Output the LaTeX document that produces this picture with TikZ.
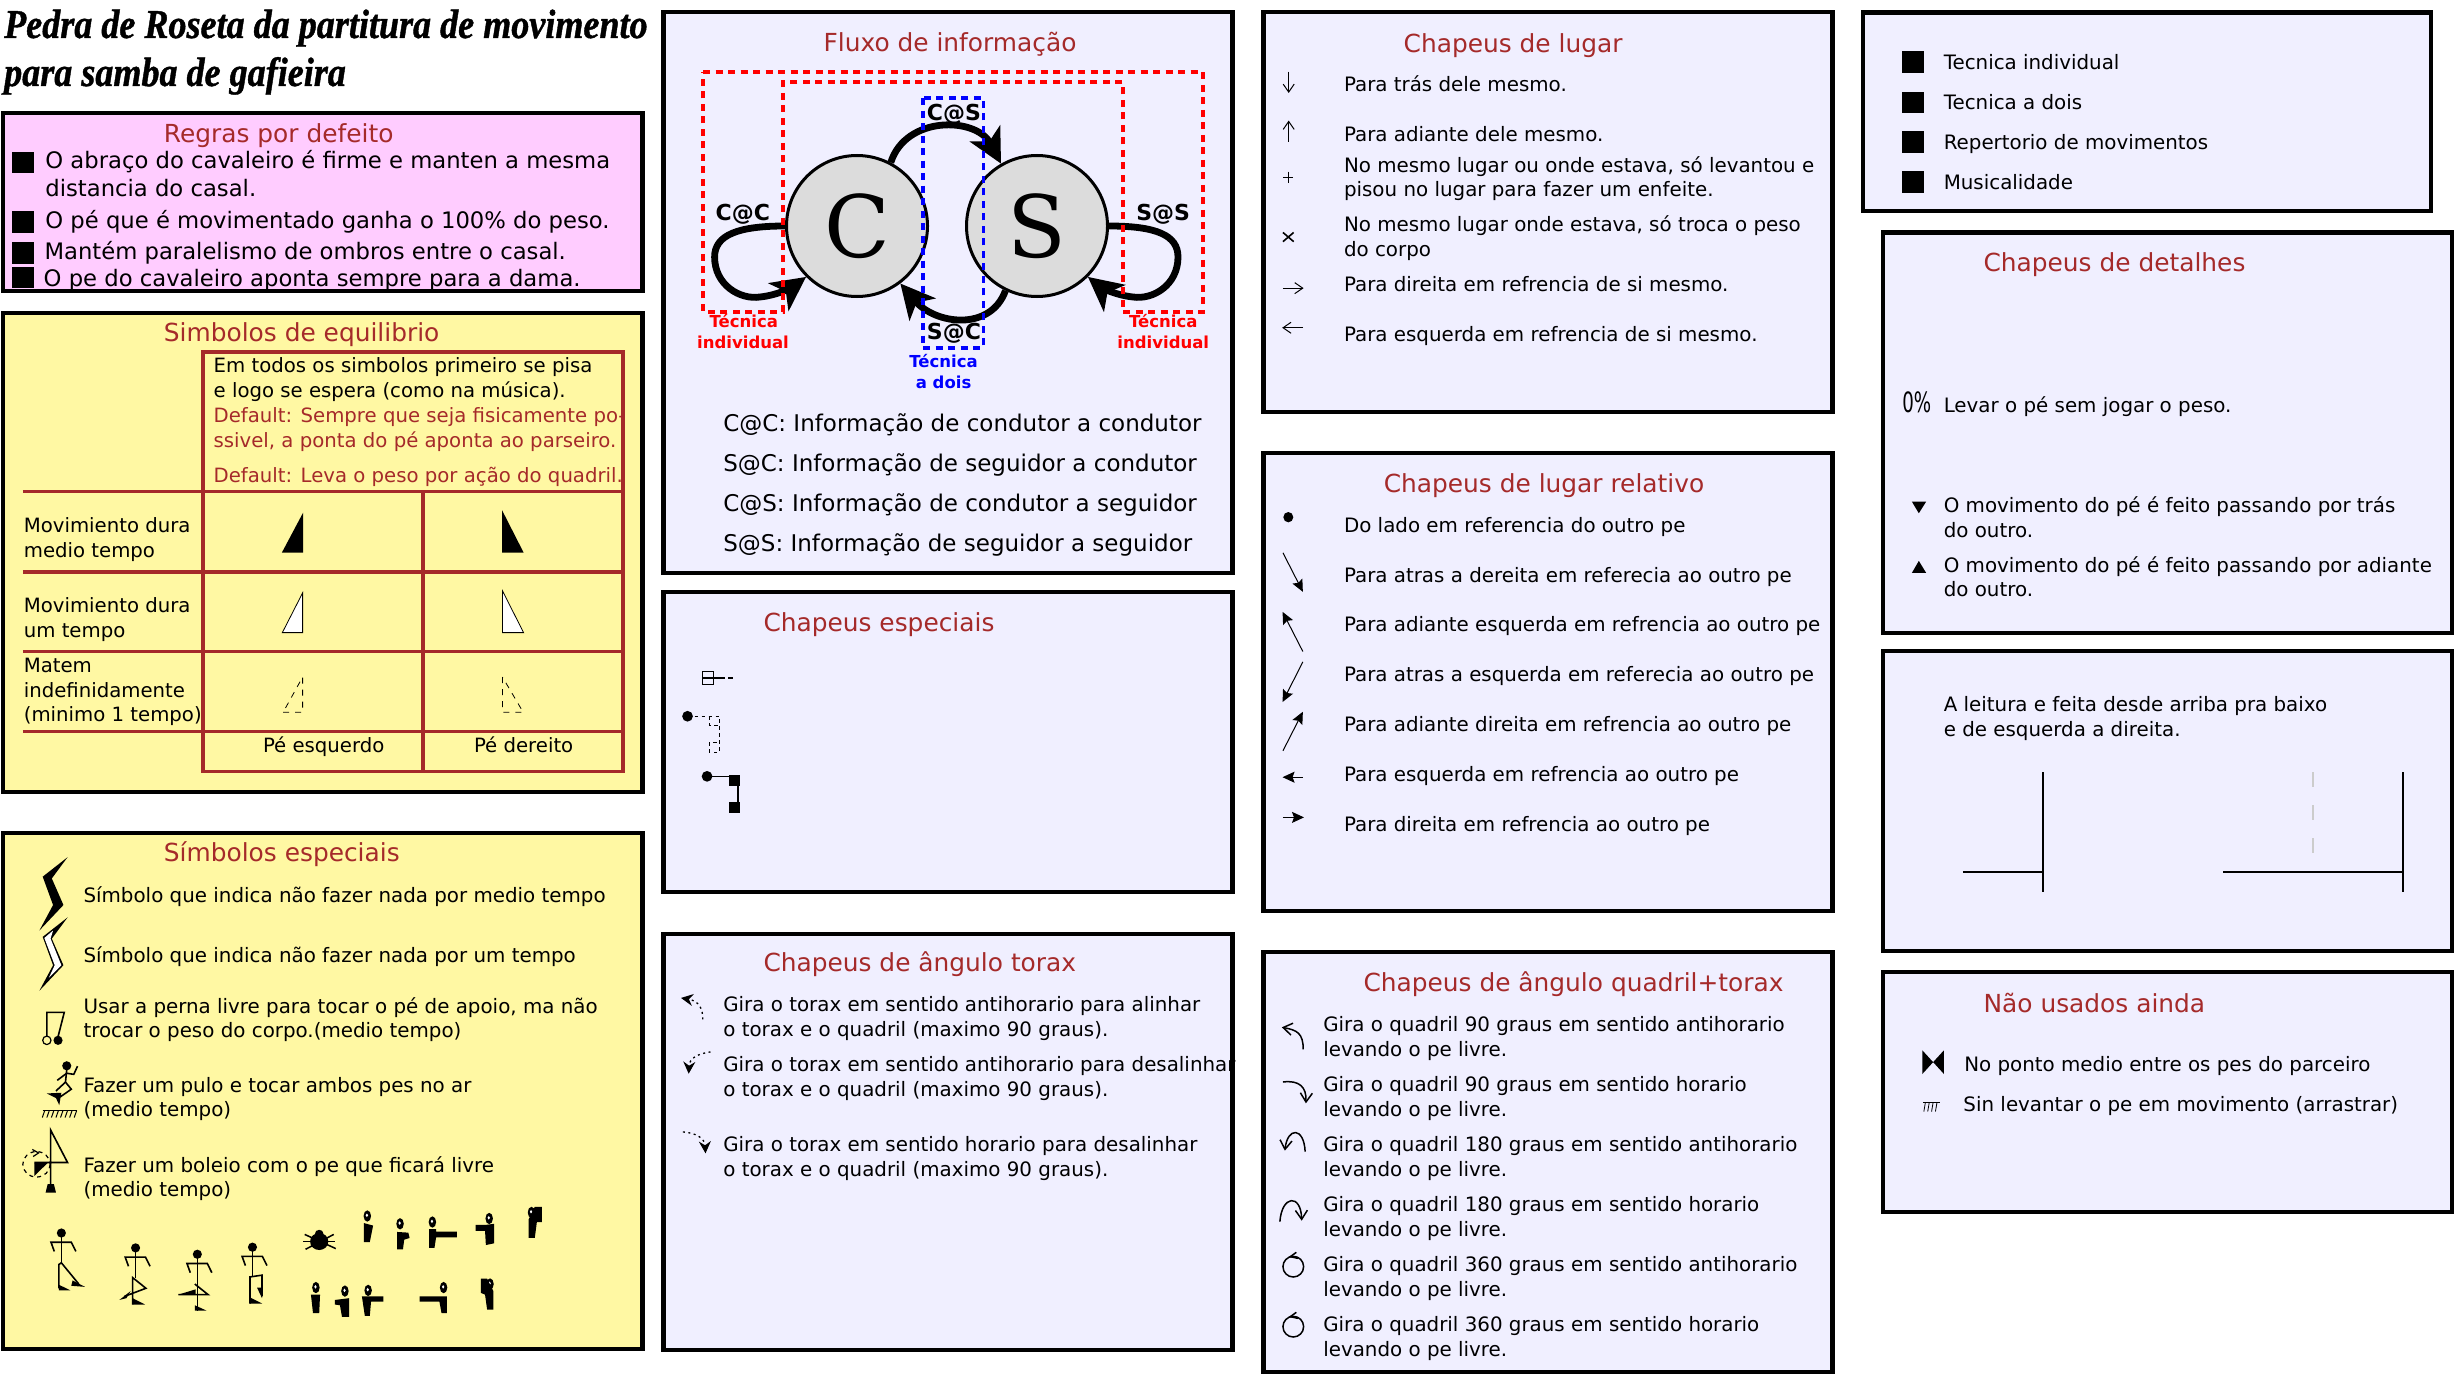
\documentclass[tikz,border=0pt]{standalone}
\usepackage{fontspec}
\setmainfont{DejaVu Sans}
\newfontfamily\titlefont{Liberation Serif}[FakeStretch=0.88,BoldItalicFeatures={FakeBold=1}]
\newfontfamily\seriffont{DejaVu Serif}
\usetikzlibrary{arrows.meta,calc}

\tikzset{
  view1/.style={xscale=1/2.412,yscale=1/1.96},
  view2/.style={shift={(0,820)},xscale=1/2.412,yscale=1/2.825},
  view3/.style={shift={(655,0)},xscale=1/2.613,yscale=1/2.703},
  view4/.style={shift={(655,580)},xscale=1/2.613,yscale=1/2.613},
  view5/.style={shift={(1255,0)},xscale=1/2.613,yscale=1/1.742},
  view6/.style={shift={(1255,930)},xscale=1/2.613,yscale=1/3},
  view7/.style={shift={(1850,0)},xscale=1/2.587,yscale=1/2.412},
  view8/.style={shift={(1850,640)},xscale=1/2.587,yscale=1/2.613},
  panel/.style={draw=black,line width=4.2pt},
  heading/.style={anchor=base west,inner sep=0pt,text=headbrown,font=\fontsize{24.85}{28}\selectfont},
  body/.style={anchor=base west,inner sep=0pt,font=\fontsize{19.85}{24}\selectfont},
  tablebody/.style={body,font=\fontsize{19.7}{24}\selectfont},
  rulebody/.style={body,font=\fontsize{22.7}{26}\selectfont},
  bigbody/.style={body,font=\fontsize{23}{26}\selectfont},
  titleline/.style={anchor=base west,inner sep=0pt,font=\fontsize{41}{46}\titlefont\bfseries\itshape},
  flowtag/.style={anchor=base west,inner sep=0pt,font=\fontsize{22}{26}\selectfont\bfseries},
  techtag/.style={anchor=base,inner sep=0pt,font=\fontsize{16.5}{20}\selectfont\bfseries},
  person/.style={circle,draw=black,fill=gainsboro,line width=3pt,minimum size=141pt,inner sep=0pt,
    font=\fontsize{86}{90}\seriffont},
  flow/.style={line width=6.8pt,-{Stealth[length=34pt,width=34pt,inset=9pt]}},
  hatline/.style={line width=1pt},
  openhat/.style={hatline,-{Straight Barb[length=8pt,width=11pt]}},
  solidhat/.style={hatline,-{Stealth[length=12pt,width=11pt,inset=2pt]}},
  turnhat/.style={line width=1.5pt,-{Straight Barb[length=9pt,width=12pt]}},
  dothat/.style={line width=1.3pt,dash pattern=on 2pt off 3.5pt,-{Stealth[length=12pt,width=12pt,inset=4pt]}},
  stick/.style={line width=1.6pt},
  grid line/.style={draw=headbrown,line width=3.3pt},
}

% person made of a thick column, with an eye in the head
\newcommand{\dancer}[3]{
  \fill (#1,#2) ellipse [x radius=9,y radius=16];
  \fill[white] (#1-1,#2-2) ellipse [x radius=3,y radius=5];
  \fill #3 -- cycle;
}
% thin person, arms always the same
\newcommand{\stickman}[3]{
  \fill (#1,#2) ellipse [x radius=11,y radius=13];
  \draw[stick] (#1,#2) -- (#1,#3);
  \draw[stick] (#1-17,#2+52) -- (#1-25,#2+26) -- (#1+24,#2+26) -- (#1+35,#2+52);
}

\begin{document}
\begin{tikzpicture}[x=1pt,y=-1pt,>=Stealth]
  \definecolor{headbrown}{RGB}{165,42,42}
  \definecolor{lavender}{RGB}{240,239,255}
  \definecolor{softpink}{RGB}{255,204,255}
  \definecolor{softyellow}{RGB}{255,248,163}
  \definecolor{gainsboro}{RGB}{220,220,220}
  \definecolor{softgray}{RGB}{204,204,204}

  \useasboundingbox (0,0) rectangle (2456,1375);

  % Panels
  \draw[panel,fill=softpink] (3,113) rectangle (642.5,291);
  \draw[panel,fill=softyellow] (3,313) rectangle (642.5,792);
  \draw[panel,fill=softyellow] (3,833) rectangle (642.5,1349);
  \draw[panel,fill=lavender] (663.5,12) rectangle (1232.5,572.6);
  \draw[panel,fill=lavender] (663.5,592) rectangle (1232.5,892);
  \draw[panel,fill=lavender] (663.5,934) rectangle (1232.5,1350);
  \draw[panel,fill=lavender] (1263.5,12) rectangle (1832.5,412);
  \draw[panel,fill=lavender] (1263.5,453) rectangle (1832.5,911);
  \draw[panel,fill=lavender] (1263.5,952) rectangle (1832.5,1372);
  \draw[panel,fill=lavender] (1863,12.5) rectangle (2431,211);
  \draw[panel,fill=lavender] (1883,232.5) rectangle (2452,633);
  \draw[panel,fill=lavender] (1883,651) rectangle (2452,951);
  \draw[panel,fill=lavender] (1883,972) rectangle (2452,1212);

  % Title
  \node[titleline] (title1) at (4,38) {Pedra de Roseta da partitura de movimento};
  \node[titleline] (title2) at (4,86) {para samba de gafieira};

  % Default rules
  \begin{scope}[view1]
    \node[heading] (regras) at (395,280) {Regras por defeito};
    \foreach \x/\y/\t [count=\i] in {109/330/{O abraço do cavaleiro é firme e manten a mesma},
        109/385/{distancia do casal.},109/448/{O pé que é movimentado ganha o 100\% do peso.},
        107/509/{Mantém paralelismo de ombros entre o casal.},105/562/{O pe do cavaleiro aponta sempre para a dama.}}
      \node[rulebody] (regra\i) at (\x,\y) {\t};
    \foreach \y in {297,414,475,523}
      \fill (29,\y) rectangle (82,\y+42);

    % Balance symbols
    \node[heading] (equilibrio) at (395,670) {Simbolos de equilibrio};
    \draw[grid line] (490,690) rectangle (1503,1512);
    \draw[grid line] (1020,964) -- (1020,1512);
    \foreach \y in {964,1121,1277,1434}
      \draw[grid line] (55,\y) -- (1503,\y);
    \foreach \y/\t [count=\i] in {730/{Em todos os simbolos primeiro se pisa},780/{e logo se espera (como na música).}}
      \node[tablebody] (nota\i) at (515,\y) {\t};
    \foreach \y/\t [count=\i] in {829/{Default: Sempre que seja fisicamente po-},878/{ssivel, a ponta do pé aponta ao parseiro.},
        946/{Default: Leva o peso por ação do quadril.}}
      \node[tablebody,text=headbrown] (default\i) at (515,\y) {\t};
    \foreach \y/\t [count=\i] in {1043/{Movimiento dura},1092/{medio tempo},1200/{Movimiento dura},1249/{um tempo},
        1318/{Matem},1367/{indefinidamente},1414/{(minimo 1 tempo)}}
      \node[tablebody] (linha\i) at (57,\y) {\t};
    \node[tablebody] (esquerdo) at (634,1475) {Pé esquerdo};
    \node[tablebody] (dereito) at (1143,1475) {Pé dereito};
    \fill (680,1083) -- (731,1083) -- (731,1005) -- cycle;
    \fill (1211,1000) -- (1211,1083) -- (1263,1083) -- cycle;
    \draw[line width=.8pt,fill=white] (681,1240) -- (730,1240) -- (730,1162) -- cycle;
    \draw[line width=.8pt,fill=white] (1212,1158) -- (1212,1240) -- (1263,1240) -- cycle;
    \draw[line width=.8pt,dash pattern=on 6pt off 6pt] (683,1396) -- (730,1396) -- (730,1327) -- cycle;
    \draw[line width=.8pt,dash pattern=on 6pt off 6pt] (1212,1327) -- (1212,1396) -- (1262,1396) -- cycle;
  \end{scope}

  % Special symbols
  \begin{scope}[view2]
    \node[heading] (especiais) at (395,118) {Símbolos especiais};
    \foreach \y/\t [count=\i] in {232/{Símbolo que indica não fazer nada por medio tempo},402/{Símbolo que indica não fazer nada por um tempo},
        546/{Usar a perna livre para tocar o pé de apoio, ma não},613/{trocar o peso do corpo.(medio tempo)},
        770/{Fazer um pulo e tocar ambos pes no ar},838/{(medio tempo)},
        995/{Fazer um boleio com o pe que ficará livre},1063/{(medio tempo)}}
      \node[body] (simbolo\i) at (201,\y) {\t};
    \fill (163,105) -- (103,160) -- (128,240) -- (95,312) -- (153,240) -- (125,165) -- cycle;
    \fill (163,275) -- (103,330) -- (128,410) -- (95,482) -- (153,410) -- (125,335) -- cycle;
    \fill[white] (128,312) -- (107,333) -- (132,410) -- (118,445) -- (148,410) -- (122,335) -- cycle;
    % note
    \draw[stick] (113,612) -- (113,543) -- (155,543) -- (140,612);
    \draw[line width=1.2pt] (113,622) ellipse [x radius=10,y radius=12];
    \fill (140,622) ellipse [x radius=11,y radius=13];
    % jump
    \fill (161,694) ellipse [x radius=11,y radius=13];
    \draw[stick] (161,705) -- (158,740) -- (172,760) -- (145,782);
    \draw[stick] (138,735) -- (161,715) -- (178,718) -- (187,695);
    \draw[stick] (158,740) -- (135,765);
    \fill (113,772) -- (148,770) -- (143,805) -- (135,785) -- cycle;
    \draw[line width=1pt] (103,820) -- (185,820);
    \foreach \x in {108,119,...,185}
      \draw[line width=1pt] (\x,820) -- (\x-6,840);
    % boleio
    \draw[stick] (122,1030) -- (122,875) -- (163,967) -- (83,967);
    \fill (83,968) -- (115,968) -- (83,1005) -- cycle;
    \fill (115,1028) -- (130,1028) -- (135,1052) -- (110,1052) -- cycle;
    \draw[line width=1.2pt,dash pattern=on 4pt off 4pt] (88,972) ellipse [x radius=33,y radius=36];
    \draw[line width=1.2pt] (78,930) -- (93,940) -- (80,950);
    % stick people
    \stickman{148}{1166}{1250}
    \draw[stick] (148,1250) -- (142,1255) -- (142,1322);
    \fill (142,1312) -- (170,1328) -- (142,1328) -- cycle;
    \draw[stick] (148,1250) -- (190,1310);
    \fill (175,1300) -- (205,1318) -- (172,1315) -- cycle;
    \stickman{327}{1208}{1292}
    \draw[stick] (320,1368) -- (320,1292) -- (352,1322) -- (300,1345);
    \fill (320,1350) -- (350,1368) -- (320,1368) -- cycle;
    \fill (288,1355) -- (315,1330) -- (305,1350) -- cycle;
    \stickman{476}{1226}{1385}
    \draw[stick] (470,1310) -- (502,1340) -- (430,1340);
    \fill (470,1370) -- (498,1385) -- (470,1385) -- cycle;
    \fill (430,1340) -- (472,1325) -- (472,1340) -- cycle;
    \stickman{609}{1206}{1288}
    \draw[stick] (603,1365) -- (603,1290) -- (632,1285) -- (632,1345);
    \fill (603,1348) -- (632,1365) -- (603,1365) -- cycle;
    \fill (620,1320) -- (632,1350) -- (632,1320) -- cycle;
    % bug
    \fill (770,1190) ellipse [x radius=22,y radius=24];
    \fill (770,1167) ellipse [x radius=10,y radius=10];
    \foreach \a/\b/\c/\d in {735/1170/810/1210,732/1190/808/1190,737/1212/805/1170}
      \draw[line width=1.5pt] (\a,\b) -- (\c,\d);
    % thick dancers
    \dancer{886}{1118}{(878,1138) -- (900,1145) -- (892,1192) -- (878,1192)}
    \dancer{965}{1140}{(958,1163) -- (985,1165) -- (988,1180) -- (975,1185) -- (972,1212) -- (958,1212)}
    \dancer{1043}{1135}{(1035,1155) -- (1052,1155) -- (1052,1162) -- (1102,1162) -- (1102,1178) -- (1052,1178) -- (1048,1208) -- (1035,1208)}
    \dancer{1180}{1125}{(1172,1143) -- (1192,1140) -- (1192,1195) -- (1172,1200) -- (1170,1160) -- (1147,1160) -- (1147,1143)}
    \dancer{1282}{1108}{(1290,1092) -- (1307,1092) -- (1307,1135) -- (1295,1135) -- (1290,1180) -- (1275,1180) -- (1275,1128)}
    \dancer{762}{1320}{(750,1340) -- (772,1340) -- (770,1392) -- (755,1392)}
    \dancer{832}{1330}{(808,1355) -- (842,1350) -- (842,1403) -- (825,1403) -- (820,1370) -- (808,1368)}
    \dancer{888}{1328}{(873,1345) -- (925,1345) -- (925,1360) -- (895,1360) -- (892,1400) -- (880,1400)}
    \dancer{1070}{1320}{(1012,1345) -- (1078,1345) -- (1078,1392) -- (1065,1392) -- (1060,1360) -- (1012,1360)}
    \dancer{1182}{1310}{(1160,1295) -- (1175,1295) -- (1190,1330) -- (1190,1382) -- (1175,1382) -- (1170,1340) -- (1160,1335)}
  \end{scope}

  % Information flow
  \node[person] (C) at (857,226) {C};
  \node[person] (S) at (1037,226) {S};
  \draw[flow] (C.62) .. controls +(15,-47) and +(-25,-47) .. (S.120);
  \draw[flow] (S.244) .. controls +(-15,41) and +(35,41) .. (C.307);
  \draw[flow] (C.180) .. controls +(-47,0) and (714.6,235) .. (714.6,257) .. controls (714.6,285) and (740,300) .. (760,297) .. controls (780,295) and (795,285) .. (C.225);
  \draw[flow] (S.0) .. controls +(47,0) and (1178,235) .. (1178,257) .. controls (1178,285) and (1153,300) .. (1133,297) .. controls (1113,295) and (1098,285) .. (S.315);
  \begin{scope}[view3]
    \node[heading] (fluxo) at (440,140) {Fluxo de informação};
    \draw[red,line width=3.6pt,dash pattern=on 7pt off 5.5pt] (126,195) -- (1432,195) -- (1432,843) -- (1222,843) -- (1222,222) -- (335,222) -- (335,843) -- (126,843) -- cycle;
    \draw[blue,line width=3.6pt,dash pattern=on 7pt off 5.5pt] (700,265) rectangle (858,940);
    \node[flowtag] (cc) at (158,595) {C@C};
    \node[flowtag] (cs) at (710,325) {C@S};
    \node[flowtag] (sc) at (710,918) {S@C};
    \node[flowtag] (ss) at (1257,595) {S@S};
    \node[techtag,text=red] (tec1) at (232,885) {Técnica};
    \node[techtag,text=red] (ind1) at (230,941) {individual};
    \node[techtag,text=red] (tec2) at (1328,885) {Técnica};
    \node[techtag,text=red] (ind2) at (1328,941) {individual};
    \node[techtag,text=blue] (tec3) at (754,992) {Técnica};
    \node[techtag,text=blue] (dois) at (754,1049) {a dois};
    \foreach \y/\t [count=\i] in {1165/{C@C: Informação de condutor a condutor},1275/{S@C: Informação de seguidor a condutor},
        1383/{C@S: Informação de condutor a seguidor},1490/{S@S: Informação de seguidor a seguidor}}
      \node[bigbody] (fluxo\i) at (178,\y) {\t};
  \end{scope}

  % Special hats and chest hats
  \begin{scope}[view4]
    \node[heading] (chapeus) at (283,135) {Chapeus especiais};
    \draw[line width=1.2pt] (125,240) rectangle (152,272);
    \draw[line width=1.2pt] (125,256) -- (183,256);
    \draw[line width=1.2pt] (192,256) -- (205,256);
    \fill (85,356) ellipse [x radius=14,y radius=14];
    \draw[line width=1.2pt,dash pattern=on 3.5pt off 3.5pt] (85,356) -- (168,356) -- (168,450) -- (142,450) -- (142,425) -- (168,425);
    \draw[line width=1.2pt,dash pattern=on 3.5pt off 3.5pt] (142,356) -- (142,380) -- (168,380);
    \fill (136,513) ellipse [x radius=14,y radius=14];
    \draw[line width=1.5pt] (136,513) -- (205,513);
    \fill (193,510) rectangle (222,537);
    \fill (193,580) rectangle (222,608);
    \draw[line width=2pt] (218,537) -- (218,580);

    \node[heading] (torax) at (283,1023) {Chapeus de ângulo torax};
    \foreach \y/\t [count=\i] in {1128/{Gira o torax em sentido antihorario para alinhar},1193/{o torax e o quadril (maximo 90 graus).},
        1285/{Gira o torax em sentido antihorario para desalinhar},1350/{o torax e o quadril (maximo 90 graus).},
        1494/{Gira o torax em sentido horario para desalinhar},1558/{o torax e o quadril (maximo 90 graus).}}
      \node[body] (torax\i) at (178,\y) {\t};
    \draw[dothat] (125,1148) .. controls (125,1120) and (115,1100) .. (68,1092);
    \draw[dothat] (145,1233) .. controls (110,1238) and (90,1250) .. (88,1290);
    \draw[dothat] (73,1442) .. controls (110,1445) and (130,1460) .. (132,1498);
  \end{scope}

  % Place hats
  \begin{scope}[view5]
    \node[heading] (lugar) at (388,92) {Chapeus de lugar};
    \foreach \y/\t [count=\i] in {160/{Para trás dele mesmo.},247/{Para adiante dele mesmo.},300/{No mesmo lugar ou onde estava, só levantou e},
        343/{pisou no lugar para fazer um enfeite.},403/{No mesmo lugar onde estava, só troca o peso},447/{do corpo},
        508/{Para direita em refrencia de si mesmo.},595/{Para esquerda em refrencia de si mesmo.}}
      \node[body] (lugar\i) at (232,\y) {\t};
    \draw[openhat] (88,125) -- (88,162);
    \draw[openhat] (88,247) -- (88,210);
    \draw[hatline] (74,309) -- (100,309) (87,299) -- (87,319);
    \draw[line width=1.6pt] (73,405) -- (101,421) (101,405) -- (73,421);
    \draw[openhat] (73,502) -- (127,502);
    \draw[openhat] (126,571) -- (71,571);

    \node[heading] (relativo) at (336,858) {Chapeus de lugar relativo};
    \foreach \y/\t [count=\i] in {927/{Do lado em referencia do outro pe},1014/{Para atras a dereita em referecia ao outro pe},
        1101/{Para adiante esquerda em refrencia ao outro pe},1188/{Para atras a esquerda em referecia ao outro pe},
        1275/{Para adiante direita em refrencia ao outro pe},1362/{Para esquerda em refrencia ao outro pe},1449/{Para direita em refrencia ao outro pe}}
      \node[body] (relativo\i) at (232,\y) {\t};
    \fill (87,901) ellipse [x radius=13,y radius=9];
    \draw[solidhat] (73,963) -- (125,1031);
    \draw[solidhat] (125,1135) -- (72,1066);
    \draw[solidhat] (125,1153) -- (72,1223);
    \draw[solidhat] (73,1308) -- (125,1240);
    \draw[solidhat] (125,1354) -- (72,1354);
    \draw[solidhat] (73,1424) -- (128,1424);
  \end{scope}

  % Hip and chest hats
  \begin{scope}[view6]
    \node[heading] (quadril) at (283,185) {Chapeus de ângulo quadril+torax};
    \foreach \y/\t [count=\i] in {303/{Gira o quadril 90 graus em sentido antihorario},378/{levando o pe livre.},
        483/{Gira o quadril 90 graus em sentido horario},558/{levando o pe livre.},
        663/{Gira o quadril 180 graus em sentido antihorario},738/{levando o pe livre.},
        843/{Gira o quadril 180 graus em sentido horario},918/{levando o pe livre.},
        1023/{Gira o quadril 360 graus em sentido antihorario},1098/{levando o pe livre.},
        1203/{Gira o quadril 360 graus em sentido horario},1278/{levando o pe livre.}}
      \node[body] (quadril\i) at (178,\y) {\t};
    \draw[turnhat] (126,358) .. controls (126,310) and (110,300) .. (70,292);
    \draw[turnhat] (73,456) .. controls (115,450) and (135,470) .. (133,520);
    \draw[turnhat] (131,665) .. controls (128,590) and (85,590) .. (78,662);
    \draw[turnhat] (65,875) .. controls (70,795) and (120,790) .. (122,872);
    \foreach \y in {1010,1190}{
      \draw[line width=1.5pt] (100,\y) ellipse [x radius=27,y radius=31];
      \draw[line width=1.5pt] (108,\y-43) -- (92,\y-30) -- (112,\y-25);
    }
  \end{scope}

  % Technique list and detail hats
  \begin{scope}[view7]
    \foreach \y/\t [count=\i] in {124/{Tecnica individual},221/{Tecnica a dois},317/{Repertorio de movimentos},413/{Musicalidade}}{
      \fill (135,\y) rectangle (191,\y+52);
      \node[body] (tecnica\i) at (242,\y+44) {\t};
    }
    \node[heading] (detalhes) at (345,655) {Chapeus de detalhes};
    \node[anchor=base west,inner sep=0pt,font=\fontsize{28}{30}\selectfont] (zero) at (135,995) {\scalebox{.65}[1]{0\%}};
    \foreach \y/\t [count=\i] in {995/{Levar o pé sem jogar o peso.},1236/{O movimento do pé é feito passando por trás},1296/{do outro.},
        1380/{O movimento do pé é feito passando por adiante},1440/{do outro.}}
      \node[body] (detalhe\i) at (242,\y) {\t};
    \fill (160,1210) -- (197,1210) -- (178,1238) -- cycle;
    \fill (160,1382) -- (197,1382) -- (178,1353) -- cycle;
  \end{scope}

  % Reading order and unused
  \begin{scope}[view8]
    \foreach \y/\t [count=\i] in {188/{A leitura e feita desde arriba pra baixo},253/{e de esquerda a direita.}}
      \node[body] (leitura\i) at (242,\y) {\t};
    \draw[softgray,line width=2.3pt,dash pattern=on 15pt off 18pt] (1198,345) -- (1198,606);
    \draw[line width=2pt] (499,345) -- (499,658) (292,606) -- (499,606);
    \draw[line width=2pt] (1431,345) -- (1431,658) (965,606) -- (1431,606);

    \node[heading] (naousados) at (345,972) {Não usados ainda};
    \node[body] (ponto) at (295,1128) {No ponto medio entre os pes do parceiro};
    \node[body] (arrastar) at (293,1233) {Sin levantar o pe em movimento (arrastrar)};
    \fill (187,1072) -- (243,1134) -- (243,1072) -- (187,1134) -- cycle;
    \draw[line width=.8pt] (190,1208) -- (233,1208);
    \foreach \x in {195,205,...,233}
      \draw[line width=.8pt] (\x,1208) -- (\x-4,1232);
  \end{scope}
\end{tikzpicture}
\end{document}
